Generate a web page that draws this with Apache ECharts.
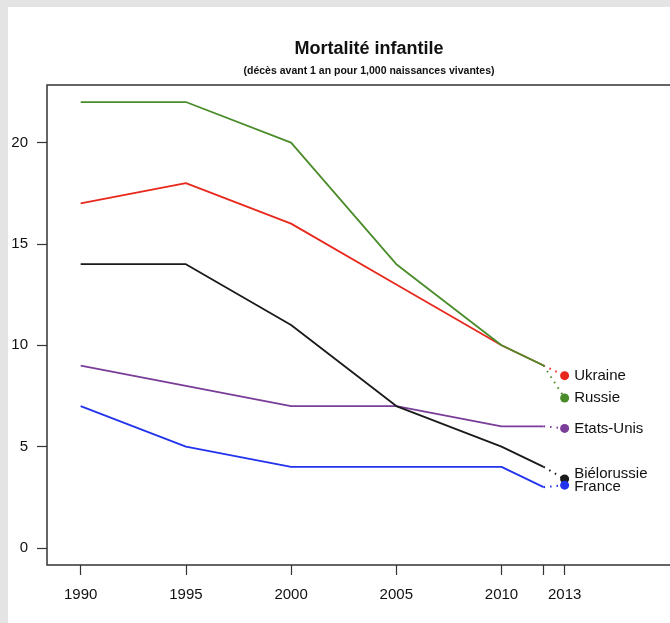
<!DOCTYPE html>
<html>
<head>
<meta charset="utf-8">
<script src="https://cdn.jsdelivr.net/npm/echarts@6/dist/echarts.min.js"></script>
<style>
  html, body { margin: 0; padding: 0; background: #e4e4e4; overflow: hidden; }
  #panel { position: absolute; left: 8px; top: 7px; width: 662px; height: 616px; background: #fff; overflow: hidden; }
  #chart { width: 1000px; height: 616px; }
</style>
</head>
<body>
<div id="panel"><div id="chart"></div></div>
<script>
// données (décès avant 1 an pour 1000 naissances vivantes)
const years = [1990, 1995, 2000, 2005, 2010, 2012];
const ukraine = [17, 18, 16, 13, 10, 9];
const russie = [22, 22, 20, 14, 10, 9];
const etatsUnis = [9, 8, 7, 7, 6, 6];
const bielorussie = [14, 14, 11, 7, 5, 4];
const france = [7, 5, 4, 4, 4, 3];

// valeurs 2013 (points)
const lastYear = 2013;
const countries = ['Ukraine', 'Russie', 'Etats-Unis', 'Biélorussie', 'France'];
const values2013 = [8.5, 7.4, 5.9, 3.4, 3.1];

const xTicks = [1990, 1995, 2000, 2005, 2010, 2012, 2013];
const xLabels = [1990, 1995, 2000, 2005, 2010, 2013];
const yTicks = [0, 5, 10, 15, 20];

const colors = ['#e8281c', '#4a8c2a', '#7a3d99', '#1a1a1a', '#2233ee'];
const seriesData = [ukraine, russie, etatsUnis, bielorussie, france];
const labelOffsets = [[0, 0], [0, 0], [0, 0], [0, -5], [0, 2]];

const chart = echarts.init(document.getElementById('chart'));

const series = [];
seriesData.forEach((vals, i) => {
  series.push({
    type: 'line',
    data: years.map((y, k) => [y, vals[k]]),
    showSymbol: false,
    lineStyle: { color: colors[i], width: 1.8 },
    silent: true
  });
  // pointillés 2012 -> 2013
  series.push({
    type: 'line',
    data: [[years[years.length - 1], vals[vals.length - 1]], [lastYear, values2013[i]]],
    showSymbol: false,
    lineStyle: { color: colors[i], width: 2, type: [1.5, 5] },
    silent: true
  });
  series.push({
    type: 'scatter',
    data: [[lastYear, values2013[i]]],
    symbolSize: 9,
    itemStyle: { color: colors[i], opacity: 1 },
    label: {
      show: true,
      position: 'right',
      distance: 5,
      offset: labelOffsets[i],
      formatter: countries[i],
      color: '#111',
      fontSize: 15,
      fontFamily: 'Liberation Sans'
    },
    silent: true
  });
});

chart.setOption({
  animation: false,
  title: [
    {
      text: 'Mortalité infantile',
      left: 356, top: 28, textAlign: 'center',
      textStyle: { fontSize: 18, fontWeight: 'bold', color: '#111', fontFamily: 'Liberation Sans' }
    },
    {
      text: '(décès avant 1 an pour 1,000 naissances vivantes)',
      left: 356, top: 54, textAlign: 'center',
      textStyle: { fontSize: 10.5, fontWeight: 'bold', color: '#111', fontFamily: 'Liberation Sans' }
    }
  ],
  grid: {
    show: true, left: 39, top: 78, right: 52, bottom: 58,
    borderColor: '#333', borderWidth: 1.5, backgroundColor: 'transparent'
  },
  xAxis: {
    type: 'value', min: 1988.4, max: 2031.6,
    axisLine: { show: false, onZero: false },
    splitLine: { show: false },
    axisTick: { show: true, length: 10, lineStyle: { color: '#333', width: 1.2 }, customValues: xTicks },
    axisLabel: {
      customValues: xLabels, margin: 22, fontSize: 15, color: '#111',
      fontFamily: 'Liberation Sans', formatter: v => String(v)
    }
  },
  yAxis: {
    type: 'value', min: -0.84, max: 22.84,
    axisLine: { show: false, onZero: false },
    splitLine: { show: false },
    axisTick: { show: true, length: 10, lineStyle: { color: '#333', width: 1.2 }, customValues: yTicks },
    axisLabel: {
      customValues: yTicks, margin: 19, fontSize: 15, color: '#111',
      fontFamily: 'Liberation Sans'
    }
  },
  series: series
});
</script>
</body>
</html>
